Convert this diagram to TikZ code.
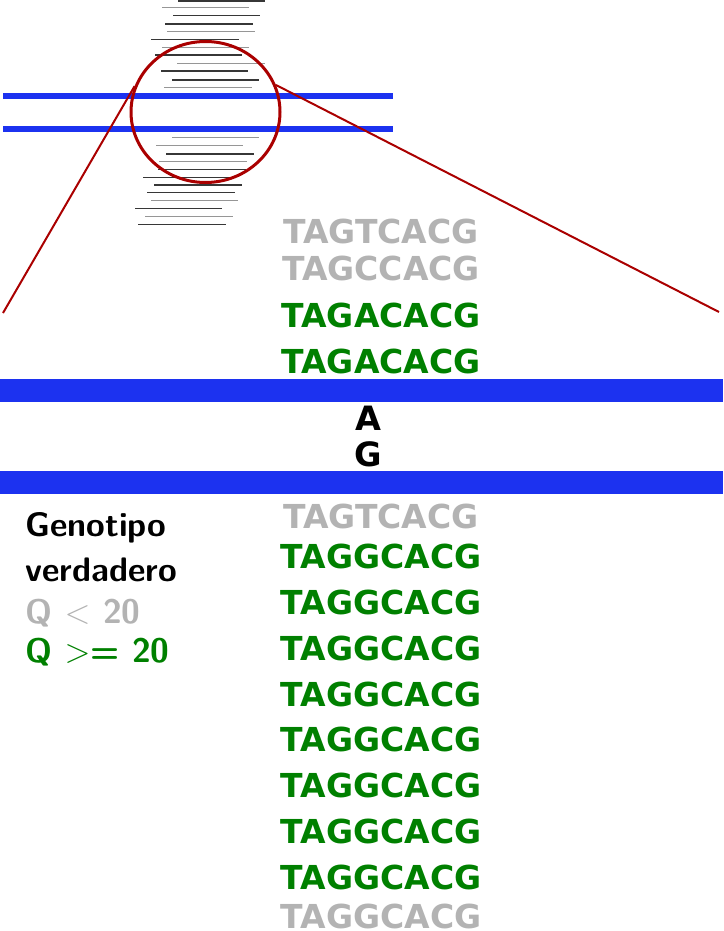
\documentclass[tikz,border=0pt]{standalone}
\usepackage{fix-cm}
\usepackage{fontspec}
\usetikzlibrary{shapes.geometric}
\newfontfamily\seqfont{DejaVu Sans}
\definecolor{seqgreen}{RGB}{0,128,0}
\definecolor{seqgrey}{RGB}{179,179,179}
\definecolor{barblue}{RGB}{28,50,240}
\definecolor{zoomred}{RGB}{170,0,0}
\definecolor{linedark}{RGB}{55,55,55}
\definecolor{linegrey}{RGB}{150,150,150}
\begin{document}
\begin{tikzpicture}[x=1pt,y=-1pt,
  seq/.style={anchor=base,inner sep=0pt,font=\seqfont\bfseries\fontsize{33}{38}\selectfont},
  allele/.style={anchor=base,inner sep=0pt,font=\seqfont\bfseries\fontsize{33.5}{40}\selectfont},
  legend/.style={anchor=base west,inner sep=0pt,font=\sffamily\bfseries\fontsize{34}{40}\selectfont},
  read/.style={line width=1.2pt},
  thinbar/.style={barblue,line width=6pt},
  zoomline/.style={zoomred,line width=2pt}]
\useasboundingbox (0,0) rectangle (723,931);
% reads above
\foreach \y/\a/\b/\c in {1/178/265/linedark, 7.7/162/249/linegrey, 15.7/173/260/linedark,
  24/165/253/linedark, 31.7/167/255/linegrey, 39.3/151/239/linedark, 47.7/162/249/linegrey,
  55/155/242/linedark, 63.3/177/265/linegrey, 71/161/248/linedark, 80/172/259/linedark,
  87.7/164/252/linegrey,
  137.7/172/259/linegrey, 145.7/156/243/linegrey, 154/166/254/linedark, 161.7/159/247/linegrey,
  169.3/158/246/linedark, 177.3/143/230/linedark, 185/154/242/linedark, 192.7/147/235/linedark,
  200.7/151/238/linegrey, 208.3/135/222/linedark, 216.7/145/233/linegrey, 224.3/138/226/linedark}
  \draw[read,\c] (\a,\y) -- (\b,\y);
% thin reference bars
\draw[thinbar] (3,96.3) -- (392.7,96.3);
\draw[thinbar] (3,128.7) -- (392.7,128.7);
% zoom circle
\node[draw=zoomred,line width=3pt,ellipse,minimum width=149pt,minimum height=141pt,inner sep=0pt] (zoom) at (205.5,112) {};
\coordinate (lend) at (3,313);
\coordinate (rend) at (719,312);
\draw[zoomline] (zoom.160) -- (lend);
\draw[zoomline] (zoom.21) -- (rend);
% thick bars
\fill[barblue] (0,379.3) rectangle (723,402.3);
\fill[barblue] (0,471) rectangle (723,494);
% sequences above
\node[seq,seqgrey]  (s1) at (381,243.3) {TAGTCACG};
\node[seq,seqgrey]  (s2) at (381,280) {TAGCCACG};
\node[seq,seqgreen] (s3) at (381,327.3) {TAGACACG};
\node[seq,seqgreen] (s4) at (381,373) {TAGACACG};
% alleles
\node[allele] (aA) at (368.3,430) {A};
\node[allele] (aG) at (368.3,466.3) {G};
% sequences below
\node[seq,seqgrey]  (b1) at (381,528.3) {TAGTCACG};
\node[seq,seqgreen] (b2) at (381,568.3) {TAGGCACG};
\node[seq,seqgreen] (b3) at (381,614.3) {TAGGCACG};
\node[seq,seqgreen] (b4) at (381,660) {TAGGCACG};
\node[seq,seqgreen] (b5) at (381,706) {TAGGCACG};
\node[seq,seqgreen] (b6) at (381,751.7) {TAGGCACG};
\node[seq,seqgreen] (b7) at (381,797.7) {TAGGCACG};
\node[seq,seqgreen] (b8) at (381,843.3) {TAGGCACG};
\node[seq,seqgreen] (b9) at (381,889.3) {TAGGCACG};
\node[seq,seqgrey]  (b10) at (381,928.3) {TAGGCACG};
% legend
\node[legend] (l1) at (25,536.7) {Genotipo};
\node[legend] (l2) at (25,581) {verdadero};
\node[legend,seqgrey] (l3) at (25,623.5) {Q $<$ 20};
\node[legend,seqgreen] (l4) at (25,662.5) {Q $>$= 20};
\end{tikzpicture}
\end{document}
